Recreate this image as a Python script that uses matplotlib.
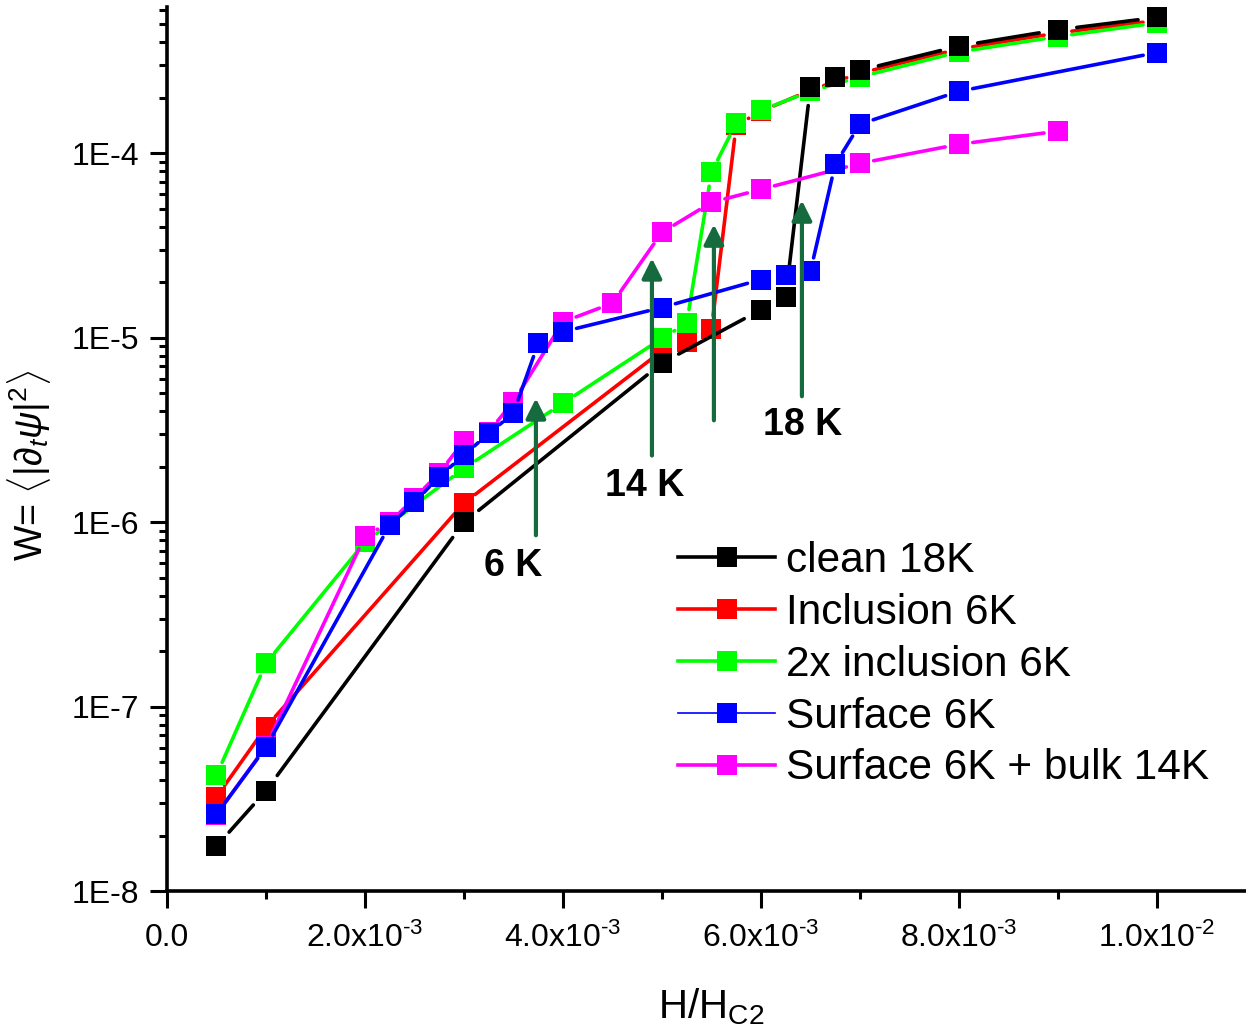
import numpy as np
import matplotlib
matplotlib.use('Agg')
import matplotlib.pyplot as plt
from matplotlib.collections import LineCollection
from matplotlib.lines import Line2D
from matplotlib.ticker import FixedLocator, LogLocator, NullFormatter, FixedFormatter

plt.rcParams['font.family'] = ['Liberation Sans', 'DejaVu Sans']
plt.rcParams['mathtext.fontset'] = 'custom'
plt.rcParams['mathtext.rm'] = 'Liberation Sans'
plt.rcParams['mathtext.it'] = 'Liberation Sans:italic'

# H/Hc2 and W values
h_clean = [0.0005, 0.001, 0.003, 0.005, 0.006, 0.00625, 0.0065, 0.00675, 0.007, 0.008, 0.009, 0.01]
w_clean = [1.75e-8, 3.5e-8, 1.0e-6, 7.3e-6, 1.42e-5, 1.66e-5, 2.3e-4, 2.58e-4, 2.82e-4, 3.82e-4, 4.68e-4, 5.46e-4]

h_incl = [0.0005, 0.001, 0.003, 0.005, 0.00525, 0.0055, 0.00575, 0.006, 0.0065, 0.007, 0.008, 0.009, 0.01]
w_incl = [3.24e-8, 7.75e-8, 1.27e-6, 8.5e-6, 9.46e-6, 1.11e-5, 1.42e-4, 1.69e-4, 2.2e-4, 2.72e-4, 3.68e-4, 4.5e-4, 5.25e-4]

h_2x = [0.0005, 0.001, 0.002, 0.003, 0.004, 0.005, 0.00525, 0.0055, 0.00575, 0.006, 0.0065, 0.007, 0.008, 0.009, 0.01]
w_2x = [4.25e-8, 1.72e-7, 7.8e-7, 1.96e-6, 4.42e-6, 9.93e-6, 1.2e-5, 7.89e-5, 1.46e-4, 1.71e-4, 2.17e-4, 2.6e-4, 3.55e-4, 4.3e-4, 5.1e-4]

h_surf = [0.0005, 0.001, 0.00225, 0.0025, 0.00275, 0.003, 0.00325, 0.0035, 0.00375, 0.004, 0.005, 0.006, 0.00625, 0.0065, 0.00675, 0.007, 0.008, 0.01]
w_surf = [2.61e-8, 6.03e-8, 9.64e-7, 1.28e-6, 1.77e-6, 2.31e-6, 3.03e-6, 3.9e-6, 9.33e-6, 1.08e-5, 1.46e-5, 2.07e-5, 2.18e-5, 2.29e-5, 8.71e-5, 1.44e-4, 2.17e-4, 3.52e-4]

h_bulk = [0.0005, 0.001, 0.002, 0.00225, 0.0025, 0.00275, 0.003, 0.00325, 0.0035, 0.004, 0.0045, 0.005, 0.0055, 0.006, 0.007, 0.008, 0.009]
w_bulk = [2.6e-8, 6.1e-8, 8.4e-7, 1.0e-6, 1.35e-6, 1.85e-6, 2.75e-6, 3.1e-6, 4.5e-6, 1.22e-5, 1.54e-5, 3.73e-5, 5.42e-5, 6.38e-5, 8.83e-5, 1.12e-4, 1.32e-4]

labels = ['clean 18K', 'Inclusion 6K', '2x inclusion 6K', 'Surface 6K', 'Surface 6K + bulk 14K']
colors = ['#000000', '#FF0000', '#00FF00', '#0000FF', '#FF00FF']

# arrows: x, y of tail, y of tip
arrow_x = [0.003727, 0.004899, 0.005525, 0.006414]
arrow_y0 = [8.5e-7, 2.3e-6, 3.57e-6, 4.82e-6]
arrow_y1 = [4.7e-6, 2.7e-5, 4.12e-5, 5.56e-5]

temp_labels = ['6 K', '14 K', '18 K']
temp_x = [0.003495, 0.00483, 0.00642]
temp_y = [5.78e-7, 1.57e-6, 3.36e-6]

xticks = [0.0, 0.002, 0.004, 0.006, 0.008, 0.01]
xticklabels = ['0.0', r'2.0x10$^{\text{-3}}$', r'4.0x10$^{\text{-3}}$', r'6.0x10$^{\text{-3}}$',
               r'8.0x10$^{\text{-3}}$', r'1.0x10$^{\text{-2}}$']
yticks = [1e-8, 1e-7, 1e-6, 1e-5, 1e-4]
yticklabels = ['1E-8', '1E-7', '1E-6', '1E-5', '1E-4']

fig = plt.figure(figsize=(12.46, 10.35), dpi=100)
ax = fig.add_axes([0.134, 0.139, 0.866, 0.854])
ax.set_yscale('log')
ax.set_xlim(0, 0.0109)
ax.set_ylim(1e-8, 6.2e-4)

lw = 2.6
ms = 14


def gapped(x, y, color, gap):
    # Origin-style: line segments stop short of the markers
    pts = ax.transData.transform(np.column_stack([x, y]))
    inv = ax.transData.inverted()
    segs = []
    for p, q in zip(pts[:-1], pts[1:]):
        d = q - p
        L = np.hypot(d[0], d[1])
        if L <= 2 * gap:
            continue
        u = d / L
        segs.append(inv.transform(np.array([p + u * gap, q - u * gap])))
    ax.add_collection(LineCollection(segs, colors=color, linewidths=lw, capstyle='round'))
    ax.plot(x, y, ls='none', marker='s', markersize=ms, color=color, markeredgewidth=0)


# draw order chosen to match overlaps in the picture
gapped(h_incl, w_incl, colors[1], 14)
gapped(h_2x, w_2x, colors[2], 14)
gapped(h_clean, w_clean, colors[0], 19)
gapped(h_bulk, w_bulk, colors[4], 14)
gapped(h_surf, w_surf, colors[3], 14)

ax.xaxis.set_major_locator(FixedLocator(xticks))
ax.xaxis.set_major_formatter(FixedFormatter(xticklabels))
ax.xaxis.set_minor_locator(FixedLocator([0.001, 0.003, 0.005, 0.007, 0.009]))
ax.yaxis.set_major_locator(FixedLocator(yticks))
ax.yaxis.set_major_formatter(FixedFormatter(yticklabels))
ax.yaxis.set_minor_locator(LogLocator(base=10, subs=np.arange(2, 10)))
ax.yaxis.set_minor_formatter(NullFormatter())

for s in ['top', 'right']:
    ax.spines[s].set_visible(False)
for s in ['left', 'bottom']:
    ax.spines[s].set_linewidth(2.6)

ax.tick_params(which='major', direction='out', length=12, width=2.2, labelsize=23)
ax.tick_params(which='minor', direction='out', length=6, width=2.2)
ax.tick_params(axis='x', which='major', pad=11)
ax.tick_params(axis='y', which='major', pad=8)

ax.set_xlabel('H/H$_{\\mathrm{C2}}$', fontsize=29)
ax.xaxis.set_label_coords(0.504, -0.108)
ax.set_ylabel(r'W= $\langle|\partial_t\psi|^2\rangle$', fontsize=27)
ax.yaxis.set_label_coords(-0.106, 0.482)

arrow_color = '#156B3E'
for x, y0, y1 in zip(arrow_x, arrow_y0, arrow_y1):
    ax.annotate('', xy=(x, y1), xytext=(x, y0),
                arrowprops=dict(arrowstyle='-|>', lw=3, color=arrow_color,
                                mutation_scale=30, shrinkA=0, shrinkB=0))
for t, x, y in zip(temp_labels, temp_x, temp_y):
    ax.text(x, y, t, fontsize=27, fontweight='bold', ha='center', va='center')

handles = [Line2D([], [], color=c, lw=lw, marker='s', markersize=ms,
                  markeredgewidth=0) for c in colors]
handles[3].set_linewidth(1.2)
leg = ax.legend(handles, labels,
                loc='upper left', bbox_to_anchor=(678 / 1246, 1 - 541 / 1035),
                bbox_transform=fig.transFigure, frameon=False, fontsize=30.5,
                handlelength=2.3, handletextpad=0.26, labelspacing=0.28,
                borderpad=0, borderaxespad=0)

fig.savefig('out.png', dpi=100)
